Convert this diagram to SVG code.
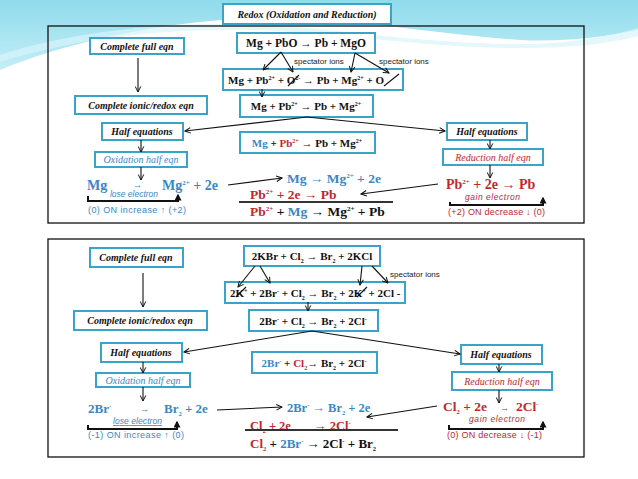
<svg xmlns="http://www.w3.org/2000/svg" width="638" height="479" viewBox="0 0 638 479">
<defs>
<linearGradient id="wv" x1="0" y1="0" x2="0" y2="1">
<stop offset="0" stop-color="#8fdbec"/>
<stop offset="1" stop-color="#c4eef7"/>
</linearGradient>
<marker id="ah" viewBox="0 0 10 10" refX="9" refY="5" markerWidth="7" markerHeight="7" orient="auto" markerUnits="userSpaceOnUse">
<path d="M1,1 L9,5 L1,9" fill="none" stroke="#111" stroke-width="1.4"/>
</marker>
<marker id="fh" viewBox="0 0 10 10" refX="8" refY="5" markerWidth="7" markerHeight="7" orient="auto" markerUnits="userSpaceOnUse">
<path d="M0,0 L10,5 L0,10 Z" fill="#111"/>
</marker>
<style>
.box{fill:#fff;stroke:#3aa3c9;stroke-width:2}
.lbl{font-family:"Liberation Serif",serif;font-style:italic;font-weight:bold;font-size:10px;fill:#111;text-anchor:middle}
.eq{font-family:"Liberation Serif",serif;font-weight:bold;fill:#111}
.note{font-family:"Liberation Sans",Arial,sans-serif;font-size:8px;fill:#222}
.small{font-family:"Liberation Sans",Arial,sans-serif;font-size:8.5px;font-style:italic}
.on{font-family:"Liberation Sans",Arial,sans-serif;font-size:9px}
.blue{fill:#3a87c8}
.red{fill:#c0282e}
.ln{stroke:#111;stroke-width:1.1;fill:none}
.arr{stroke:#111;stroke-width:1.1;fill:none;marker-end:url(#ah)}
.brk{stroke:#111;stroke-width:2;fill:none;marker-end:url(#fh)}
.panel{fill:none;stroke:#111;stroke-width:1.3}
.bar{stroke:#333;stroke-width:2}
</style>
</defs>
<rect width="638" height="479" fill="#fff"/>
<path d="M0,0 H638 V30 C600,38 560,42 520,40 C430,34 330,14 250,18 C150,23 60,45 0,70 Z" fill="url(#wv)"/>
<path d="M0,55 C70,32 160,22 250,24 C340,28 420,44 520,44 C570,44 610,36 638,28 V36 C610,44 570,48 520,48 C420,48 340,32 250,30 C160,28 70,40 0,62 Z" fill="#d9f3f9" opacity="0.7"/>

<rect class="panel" x="48" y="26" width="536" height="197"/>
<rect class="panel" x="48" y="239" width="536" height="218"/>

<g id="title"><rect class="box" x="223" y="4" width="168" height="20"/><text class="lbl" x="307" y="18">Redox (Oxidation and Reduction)</text></g>

<!-- top panel -->
<g id="full1"><rect class="box" x="90" y="38" width="94" height="16"/><text class="lbl" x="137" y="50">Complete full eqn</text></g>
<g id="ionic1"><rect class="box" x="75" y="96" width="132" height="18"/><text class="lbl" x="141" y="109">Complete ionic/redox eqn</text></g>
<g id="eq1"><rect class="box" x="237" y="33" width="138" height="20"/><text class="eq" x="306" y="47" font-size="11.5" text-anchor="middle">Mg + PbO →  Pb + MgO</text></g>
<g id="eq2"><rect class="box" x="223" y="69" width="180" height="21"/>
<text class="eq" x="228" y="84" font-size="11">Mg + Pb<tspan font-size="6" dy="-4">2+</tspan><tspan dy="4"> + O</tspan><tspan font-size="6" dy="-4">2-</tspan><tspan dy="4"> → Pb + Mg</tspan><tspan font-size="6" dy="-4">2+</tspan><tspan dy="4"> + O</tspan></text>
<path class="ln" d="M288,86 L299,75 M384,86 L399,74"/></g>
<g id="eq3"><rect class="box" x="240" y="95" width="133" height="22"/>
<text class="eq" x="306" y="110" font-size="11" text-anchor="middle">Mg + Pb<tspan font-size="6" dy="-4">2+</tspan><tspan dy="4"> →  Pb + Mg</tspan><tspan font-size="6" dy="-4">2+</tspan></text></g>
<g id="half1L"><rect class="box" x="102" y="123" width="81" height="17"/><text class="lbl" x="142" y="135">Half equations</text></g>
<g id="eq4"><rect class="box" x="240" y="132" width="135" height="21"/>
<text class="eq" x="307" y="147" font-size="11" text-anchor="middle"><tspan class="blue">Mg</tspan> + <tspan class="red">Pb</tspan><tspan class="red" font-size="6" dy="-4">2+</tspan><tspan dy="4"> →  Pb + Mg</tspan><tspan font-size="6" dy="-4">2+</tspan></text></g>
<g id="oxid1"><rect class="box" x="95" y="152" width="92" height="15"/><text class="lbl blue" x="141" y="163" style="font-weight:normal">Oxidation half eqn</text></g>
<g id="halfR1"><rect class="box" x="447" y="123" width="80" height="17"/><text class="lbl" x="487" y="135">Half equations</text></g>
<g id="red1"><rect class="box" x="443" y="149" width="100" height="16"/><text class="lbl red" x="493" y="161" style="font-weight:normal">Reduction half eqn</text></g>

<g id="oxEq1">
<text class="eq blue" x="87" y="190" font-size="14">Mg</text>
<text class="eq blue" x="133" y="188" font-size="9">→</text>
<text class="eq blue" x="162" y="190" font-size="14">Mg<tspan font-size="7" dy="-5">2+</tspan><tspan dy="5"> + 2e</tspan></text>
<text class="small blue" x="110" y="197" textLength="48">lose electron</text>
<path class="brk" d="M88,196 V201 H178 V195"/>
<text class="on blue" x="88" y="213" textLength="98">(0)   ON increase ↑  (+2)</text>
</g>
<g id="redEq1">
<text class="eq red" x="446" y="189" font-size="14">Pb<tspan font-size="7" dy="-5">2+</tspan><tspan dy="5"> + 2e  →  Pb</tspan></text>
<text class="small red" x="465" y="200" textLength="55">gain electron</text>
<path class="brk" d="M450,202 V205 H543 V198"/>
<text class="on red" x="448" y="215" textLength="97">(+2)  ON decrease ↓  (0)</text>
</g>
<g id="sum1">
<text class="eq blue" x="287" y="183" font-size="13.5">Mg →  Mg<tspan font-size="7" dy="-5">2+</tspan><tspan dy="5"> + 2e</tspan></text>
<text class="eq red" x="250" y="199" font-size="13.5">Pb<tspan font-size="7" dy="-5">2+</tspan><tspan dy="5"> + 2e  →  Pb</tspan></text>
<line class="bar" x1="239" y1="202" x2="393" y2="202"/>
<text class="eq" x="250" y="216" font-size="13.5"><tspan class="red">Pb</tspan><tspan class="red" font-size="7" dy="-5">2+</tspan><tspan dy="5"> + </tspan><tspan class="blue">Mg</tspan> →  Mg<tspan font-size="7" dy="-5">2+</tspan><tspan dy="5"> + Pb</tspan></text>
</g>
<text class="note" x="294" y="64">spectator ions</text>
<text class="note" x="379" y="64">spectator ions</text>

<!-- bottom panel -->
<g id="full2"><rect class="box" x="90" y="248" width="93" height="19"/><text class="lbl" x="136" y="261">Complete full eqn</text></g>
<g id="ionic2"><rect class="box" x="74" y="311" width="133" height="19"/><text class="lbl" x="140" y="324">Complete ionic/redox eqn</text></g>
<g id="eq5"><rect class="box" x="244" y="246" width="136" height="20"/>
<text class="eq" x="312" y="260" font-size="11" text-anchor="middle">2KBr + Cl<tspan font-size="6" dy="3">2</tspan><tspan dy="-3"> →  Br</tspan><tspan font-size="6" dy="3">2</tspan><tspan dy="-3"> + 2KCl</tspan></text></g>
<g id="eq6"><rect class="box" x="225" y="282" width="180" height="21"/>
<text class="eq" x="230" y="297" font-size="11">2K<tspan font-size="6" dy="-4">+</tspan><tspan dy="4">  + 2Br</tspan><tspan font-size="6" dy="-4">-</tspan><tspan dy="4"> + Cl</tspan><tspan font-size="6" dy="3">2</tspan><tspan dy="-3"> → Br</tspan><tspan font-size="6" dy="3">2</tspan><tspan dy="-3"> + 2K</tspan><tspan font-size="6" dy="-4">+</tspan><tspan dy="4"> + 2Cl -</tspan></text>
<path class="ln" d="M236,297 L246,287 M357,297 L367,287"/></g>
<g id="eq7"><rect class="box" x="249" y="310" width="129" height="21"/>
<text class="eq" x="313" y="325" font-size="11" text-anchor="middle">2Br<tspan font-size="6" dy="-4">-</tspan><tspan dy="4">  + Cl</tspan><tspan font-size="6" dy="3">2</tspan><tspan dy="-3"> →  Br</tspan><tspan font-size="6" dy="3">2</tspan><tspan dy="-3"> + 2Cl</tspan><tspan font-size="6" dy="-4">-</tspan></text></g>
<g id="half2L"><rect class="box" x="101" y="343" width="81" height="19"/><text class="lbl" x="141" y="356">Half equations</text></g>
<g id="eq8"><rect class="box" x="252" y="352" width="125" height="21"/>
<text class="eq" x="314" y="367" font-size="11" text-anchor="middle"><tspan class="blue">2Br</tspan><tspan class="blue" font-size="6" dy="-4">-</tspan><tspan dy="4">  + </tspan><tspan class="red">Cl</tspan><tspan class="red" font-size="6" dy="3">2</tspan><tspan dy="-3">→  Br</tspan><tspan font-size="6" dy="3">2</tspan><tspan dy="-3"> + 2Cl</tspan><tspan font-size="6" dy="-4">-</tspan></text></g>
<g id="oxid2"><rect class="box" x="96" y="373" width="94" height="14"/><text class="lbl blue" x="143" y="384" style="font-weight:normal">Oxidation half eqn</text></g>
<g id="halfR2"><rect class="box" x="461" y="345" width="81" height="19"/><text class="lbl" x="501" y="358">Half equations</text></g>
<g id="red2"><rect class="box" x="452" y="372" width="100" height="18"/><text class="lbl red" x="502" y="385" style="font-weight:normal">Reduction half eqn</text></g>

<g id="oxEq2">
<text class="eq blue" x="88" y="413" font-size="13">2Br<tspan font-size="6.5" dy="-5">-</tspan></text>
<text class="eq blue" x="140" y="412" font-size="9">→</text>
<text class="eq blue" x="164" y="413" font-size="13">Br<tspan font-size="6.5" dy="3">2</tspan><tspan dy="-3"> + 2e</tspan></text>
<text class="small blue" x="113" y="424" textLength="49" text-decoration="underline">lose electron</text>
<path class="brk" d="M88,425 V429 H177 V422"/>
<text class="on blue" x="88" y="438" textLength="96">(-1)   ON increase ↑   (0)</text>
</g>
<g id="redEq2">
<text class="eq red" x="443" y="411" font-size="13.5">Cl<tspan font-size="6.5" dy="3">2</tspan><tspan dy="-3"> + 2e </tspan></text>
<text class="eq red" x="500" y="411" font-size="9">→</text>
<text class="eq red" x="516" y="411" font-size="13.5">2Cl<tspan font-size="6.5" dy="-5">-</tspan></text>
<text class="small red" x="469" y="422" textLength="56">gain electron</text>
<path class="brk" d="M449,425 V429 H543 V422"/>
<text class="on red" x="447" y="438" textLength="95">(0)  ON decrease ↓  (-1)</text>
</g>
<g id="sum2">
<text class="eq blue" x="287" y="412" font-size="12.5">2Br<tspan font-size="6.5" dy="-5">-</tspan><tspan dy="5"> →  Br</tspan><tspan font-size="6.5" dy="3">2</tspan><tspan dy="-3"> + 2e</tspan></text>
<text class="eq red" x="250" y="430" font-size="12.5">Cl<tspan font-size="6.5" dy="3">2</tspan><tspan dy="-3"> + 2e</tspan></text>
<text class="eq red" x="314" y="430" font-size="12.5">→ 2Cl<tspan font-size="6.5" dy="-5">-</tspan></text>
<line class="bar" x1="245" y1="430" x2="398" y2="430"/>
<text class="eq" x="250" y="448" font-size="13"><tspan class="red">Cl</tspan><tspan class="red" font-size="6.5" dy="3">2</tspan><tspan dy="-3"> + </tspan><tspan class="blue">2Br</tspan><tspan class="blue" font-size="6.5" dy="-5">-</tspan><tspan dy="5">  →  2Cl</tspan><tspan font-size="6.5" dy="-5">-</tspan><tspan dy="5"> + Br</tspan><tspan font-size="6.5" dy="3">2</tspan></text>
</g>
<text class="note" x="390" y="277">spectator ions</text>

<g id="connectors">
<line class="arr" x1="138" y1="58" x2="138" y2="92"/>
<line class="arr" x1="281" y1="52" x2="263" y2="70"/>
<line class="arr" x1="281" y1="52" x2="293" y2="72"/>
<line class="arr" x1="355" y1="53" x2="351" y2="72"/>
<line class="arr" x1="355" y1="53" x2="389" y2="73"/>
<line class="arr" x1="262" y1="89" x2="262" y2="97"/>
<line class="arr" x1="307" y1="117" x2="185" y2="131"/>
<line class="arr" x1="307" y1="117" x2="445" y2="131"/>
<line class="arr" x1="141" y1="140" x2="141" y2="152"/>
<line class="arr" x1="141" y1="167" x2="141" y2="180"/>
<line class="arr" x1="490" y1="140" x2="490" y2="149"/>
<line class="arr" x1="490" y1="165" x2="490" y2="178"/>
<line class="arr" x1="228" y1="185" x2="282" y2="178"/>
<line class="arr" x1="438" y1="184" x2="361" y2="194"/>

<line class="arr" x1="143" y1="273" x2="143" y2="307"/>
<line class="arr" x1="255" y1="266" x2="238" y2="287"/>
<line class="arr" x1="260" y1="266" x2="270" y2="283"/>
<line class="arr" x1="362" y1="266" x2="360" y2="285"/>
<line class="arr" x1="372" y1="266" x2="388" y2="283"/>
<line class="arr" x1="308" y1="302" x2="308" y2="311"/>
<line class="arr" x1="312" y1="331" x2="184" y2="352"/>
<line class="arr" x1="312" y1="331" x2="460" y2="354"/>
<line class="arr" x1="143" y1="362" x2="143" y2="373"/>
<line class="arr" x1="143" y1="387" x2="143" y2="401"/>
<line class="arr" x1="499" y1="364" x2="499" y2="372"/>
<line class="arr" x1="499" y1="390" x2="499" y2="403"/>
<line class="arr" x1="217" y1="410" x2="282" y2="407"/>
<line class="arr" x1="437" y1="406" x2="367" y2="417"/>
</g>
</svg>
